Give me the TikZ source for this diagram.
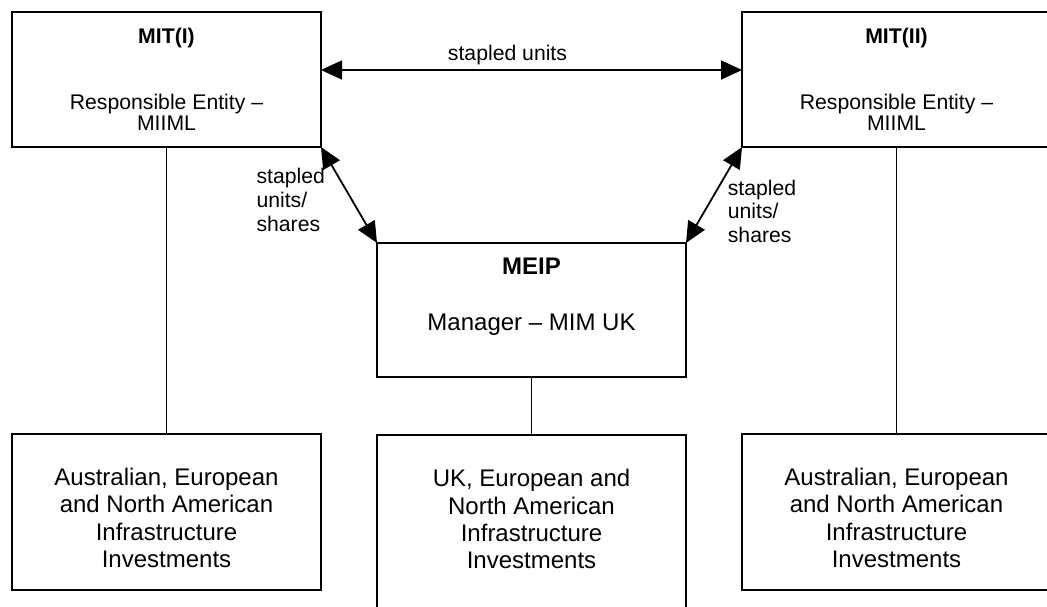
\documentclass[tikz,border=0pt]{standalone}
\usepackage{fontspec}
\setmainfont{Liberation Sans}
\usetikzlibrary{arrows.meta,positioning}

\begin{document}
\begin{tikzpicture}[x=0.5pt, y=-0.5pt,
       line width=0.8pt, black, text=black,
       every node/.style={outer sep=0pt},
       trust/.style 2 args = {rectangle, draw, minimum width=154.5pt, minimum height=#1,
                              align=center, inner sep=0pt, font=#2},
       stapling/.style = {{Triangle[length=10.5pt,width=9.5pt]}-{Triangle[length=10.5pt,width=9.5pt]},
                          line width=0.9pt},
       note/.style = {align=left, inner sep=0pt, font=\fontsize{10.6pt}{11.8pt}\selectfont}]
	%% Frame (the picture is cut at the right and at the bottom)
	\clip (0,0) rectangle (1047,606);

	%% Stapled trusts
	\node [trust={67.5pt}{\fontsize{10.6pt}{10.4pt}\selectfont}] (mit1) at (166.5,79.5)
	      {\textbf{MIT(I)}\\[22.6pt]Responsible Entity --\\MIIML};
	\node [trust={67.5pt}{\fontsize{10.6pt}{10.4pt}\selectfont},right=210.5pt of mit1] (mit2)
	      {\textbf{MIT(II)}\\[22.6pt]Responsible Entity --\\MIIML};

	%% Manager in the middle
	\node [trust={67pt}{\fontsize{12pt}{13.7pt}\selectfont},below right=48pt and 28pt of mit1] (meip)
	      {\textbf{MEIP}\\[14.3pt]Manager -- MIM UK\\[1.8pt]\mbox{}};

	%% Investments
	\node [trust={78pt}{\fontsize{12pt}{13.7pt}\selectfont},below=143.5pt of mit1] (inv1)
	      {\mbox{}\\[1.1pt]Australian, European\\and North American\\Infrastructure\\Investments};
	\node [trust={78pt}{\fontsize{12pt}{13.7pt}\selectfont},below=143.5pt of mit2] (inv2)
	      {\mbox{}\\[1.1pt]Australian, European\\and North American\\Infrastructure\\Investments};
	\node [trust={92.5pt}{\fontsize{12pt}{13.7pt}\selectfont},below=29pt of meip] (inv3)
	      {UK, European and\\North American\\Infrastructure\\Investments\\[-5.2pt]\mbox{}};

	%% Ownership lines
	\draw (mit1) -- (inv1);
	\draw (mit2) -- (inv2);
	\draw (meip) -- (inv3);

	%% Stapling
	\draw [stapling] ([yshift=4.75pt]mit1.east) -- ([yshift=4.75pt]mit2.west)
	      node [note,above=2.8pt,midway,xshift=-12pt] (units) {stapled units};
	\draw [stapling] (mit1.south east) -- (meip.north west)
	      node [note,anchor=east,pos=0.552,xshift=-13.5pt] (share1) {stapled\\units/\\shares};
	\draw [stapling] (mit2.south west) -- (meip.north east)
	      node [note,anchor=west,pos=0.667,xshift=11.6pt] (share2) {stapled\\units/\\shares};
\end{tikzpicture}
\end{document}
